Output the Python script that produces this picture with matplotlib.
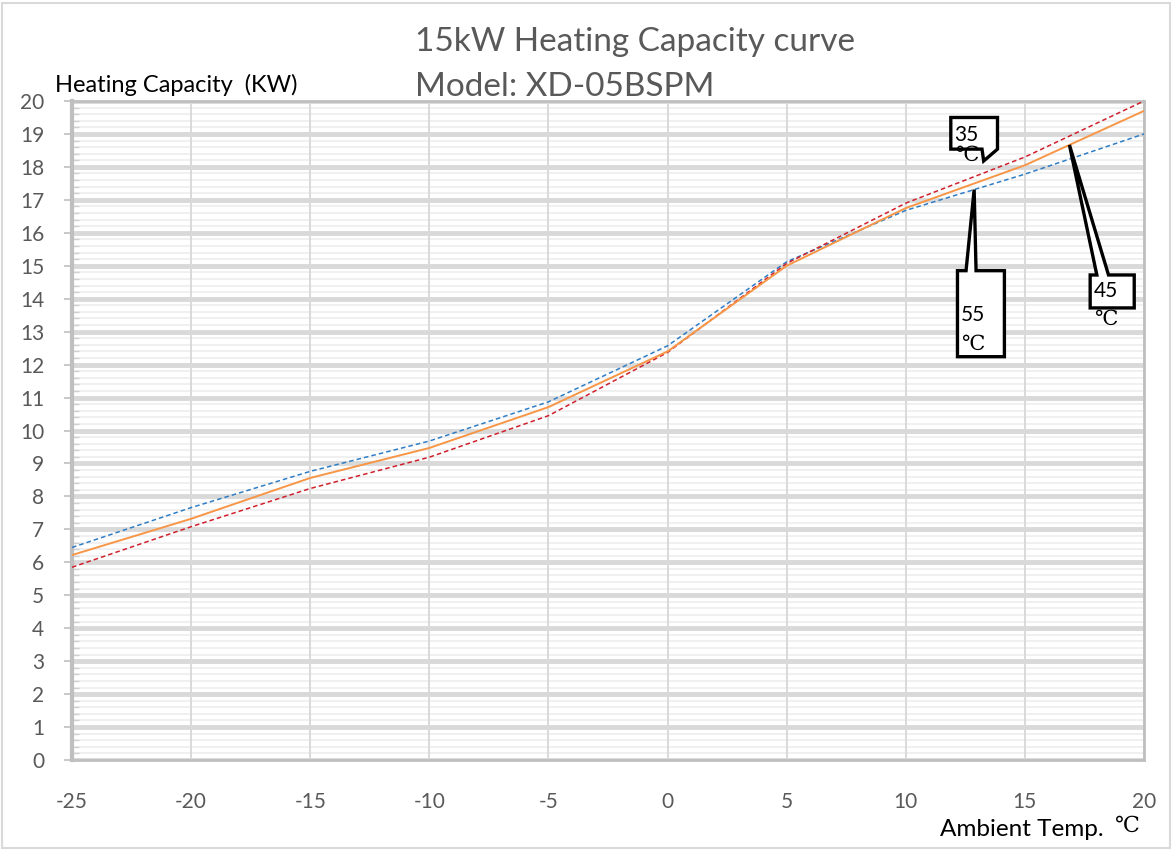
import numpy as np
import matplotlib
matplotlib.use("Agg")
import matplotlib.pyplot as plt
from matplotlib.ticker import MultipleLocator
from matplotlib.patches import Polygon, Rectangle

plt.rcParams['font.family'] = ['Lato', 'DejaVu Sans']
plt.rcParams['axes.unicode_minus'] = False

# Ambient temperature (°C) and heating capacity (kW) per leaving-water temperature
ambient = [-25, -20, -15, -10, -5, 0, 5, 10, 15, 20]
cap_35 = [5.85, 7.08, 8.24, 9.19, 10.45, 12.37, 15.07, 16.9, 18.3, 20.0]
cap_45 = [6.22, 7.32, 8.56, 9.47, 10.71, 12.4, 15.0, 16.75, 18.05, 19.7]
cap_55 = [6.45, 7.66, 8.76, 9.68, 10.87, 12.57, 15.12, 16.68, 17.78, 19.0]

x_ticks = [-25, -20, -15, -10, -5, 0, 5, 10, 15, 20]
y_ticks = list(range(0, 21))

title_lines = ["15kW Heating Capacity curve", "Model: XD-05BSPM"]
y_label = "Heating Capacity  (KW)"
x_label = "Ambient Temp."
deg = "\u2103"

W, H = 1173, 850
fig = plt.figure(figsize=(W / 100, H / 100), dpi=100)
ax = fig.add_axes([72 / W, 1 - 760 / H, (1144 - 72) / W, (760 - 101) / H])

GRAY = '#595959'
GRID = '#D9D9D9'

ax.set_xlim(-25, 20)
ax.set_ylim(0, 20)
ax.set_xticks(x_ticks)
ax.set_yticks(y_ticks)
ax.yaxis.set_minor_locator(MultipleLocator(0.2))

ax.grid(axis='y', which='major', color=GRID, lw=3.5)
ax.grid(axis='y', which='minor', color='#F0F0F0', lw=1.4)
ax.grid(axis='x', which='major', color=GRID, lw=1.4)
ax.set_axisbelow(True)
ax.xaxis.set_zorder(0.7)

for s in ax.spines.values():
    s.set_color('#BFBFBF')
    s.set_linewidth(2)
ax.spines['left'].set_linewidth(3)

ax.tick_params(axis='y', which='major', direction='out', length=6, width=1.2,
               color='#BFBFBF', labelsize=15, labelcolor=GRAY, pad=14)
ax.tick_params(axis='y', which='minor', direction='in', length=5, width=1,
               color='#D0D0D0')
ax.tick_params(axis='x', which='major', length=0, labelsize=15,
               labelcolor=GRAY, pad=23)

ax.plot(ambient, cap_55, color='#2E7DC6', lw=1.1, ls=(0, (3, 2)), zorder=3)
ax.plot(ambient, cap_35, color='#D0202C', lw=1.1, ls=(0, (3, 2)), zorder=3)
ax.plot(ambient, cap_45, color='#F79646', lw=1.4, zorder=4)

serif = ['DejaVu Serif', 'DejaVu Sans']
sans = ['Lato', 'DejaVu Sans']


def callout(verts):
    ax.add_patch(Polygon(verts, closed=True, facecolor='white',
                         edgecolor='black', lw=2.4, zorder=6,
                         clip_on=False, joinstyle='miter'))


def label(x, y, s, fam, size):
    ax.text(x, y, s, fontsize=size, family=fam, color='black',
            ha='left', va='center', zorder=7, clip_on=False)


# 55 °C callout on the lowest warm-ambient curve
tip55 = (12.87, float(np.interp(12.87, ambient, cap_55)))
callout([(12.17, 14.85), (12.53, 14.85), tip55, (12.95, 14.85),
         (14.14, 14.85), (14.14, 12.24), (12.17, 12.24)])
label(12.33, 13.52, "55", sans, 15)
label(12.3, 12.6, deg, serif, 15)

# 45 °C callout on the middle curve
tip45 = (16.87, float(np.interp(16.87, ambient, cap_45)))
callout([(17.74, 14.72), (18.02, 14.72), tip45, (18.51, 14.72),
         (19.59, 14.72), (19.59, 13.72), (17.74, 13.72)])
label(17.88, 14.24, "45", sans, 15)
label(17.9, 13.38, deg, serif, 15)

# 35 °C callout above the upper curve
callout([(11.89, 19.5), (13.85, 19.5), (13.85, 18.54), (13.27, 18.18),
         (13.2, 18.54), (11.89, 18.54)])
label(12.05, 18.98, "35", sans, 15)
label(12.08, 18.36, deg, serif, 15)

# Titles and axis captions
fig.text(415 / W, 1 - 42 / H, title_lines[0], fontsize=24, color=GRAY,
         ha='left', va='center')
fig.text(415 / W, 1 - 87 / H, title_lines[1], fontsize=24, color=GRAY,
         ha='left', va='center')
fig.text(55 / W, 1 - 85 / H, y_label, fontsize=17, color='black',
         ha='left', va='center')
fig.text(940 / W, 1 - 829 / H, x_label, fontsize=17.5, color='black',
         ha='left', va='center')
fig.text(1115 / W, 1 - 826 / H, deg, fontsize=16, family=serif,
         color='black', ha='left', va='center')

# Outer chart frame
fig.patches.append(Rectangle((2 / W, 2 / H), 1 - 5 / W, 1 - 5 / H,
                             transform=fig.transFigure, fill=False,
                             edgecolor='#D9D9D9', lw=1.5))

fig.savefig('out.png', dpi=100)
